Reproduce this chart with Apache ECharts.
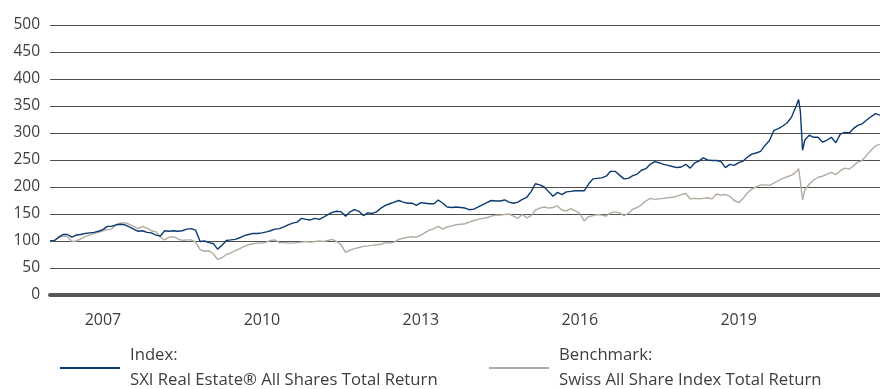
<!DOCTYPE html>
<html>
<head>
<meta charset="utf-8">
<script src="https://cdn.jsdelivr.net/npm/echarts@6/dist/echarts.min.js"></script>
<style>
  html, body { margin: 0; padding: 0; background: #ffffff; }
  #chart { width: 880px; height: 389px; }
</style>
</head>
<body>
<div id="chart"></div>
<script>
// Monthly observations from Jan 2006 to Sep 2021, plus two extra days
// around the February/March 2020 sell-off.
const monthStarts = [];
for (let y = 2006; y <= 2021; y++) {
  for (let m = 1; m <= 12; m++) {
    if (y === 2021 && m > 9) break;
    monthStarts.push(y + '-' + String(m).padStart(2, '0') + '-01');
  }
}
const extraDays = ['2020-02-18', '2020-03-16'];
const dates = monthStarts.concat(extraDays).sort();

const indexName = 'SXI Real Estate® All Shares Total Return';
const benchName = 'Swiss All Share Index Total Return';

// Index, rebased to 100
const indexValues = [
  100, 101, 107, 112, 112, 107, 111, 112, 114, 115, 116, 118,   // 2006
  121, 127, 127, 130, 131, 130, 126, 122, 118, 119, 116, 115,   // 2007
  111, 109, 119, 118, 119, 118, 119, 122, 123, 120, 99, 100,    // 2008
  97, 95, 85, 92, 101, 102, 103, 106, 110, 112, 114, 114,       // 2009
  115, 117, 119, 122, 123, 126, 130, 133, 135, 142, 140, 139,   // 2010
  142, 140, 144, 149, 153, 155, 154, 146, 154, 158, 155, 147,   // 2011
  152, 151, 154, 161, 166, 169, 172, 175, 172, 170, 170, 166,   // 2012
  171, 170, 169, 169, 176, 170, 163, 162, 163, 162, 161, 158,   // 2013
  159, 163, 167, 171, 175, 174, 174, 176, 172, 170, 172, 177,   // 2014
  181, 192, 206, 204, 200, 191, 183, 190, 186, 191, 192, 193,   // 2015
  193, 193, 205, 215, 216, 217, 220, 229, 229, 222, 215, 216,   // 2016
  221, 224, 231, 234, 242, 247, 245, 242, 240, 238, 236, 237,   // 2017
  242, 235, 244, 248, 254, 250, 249, 249, 247, 236, 242, 240,   // 2018
  245, 248, 255, 261, 263, 266, 277, 286, 305, 308, 313, 319,   // 2019
  330, 350, 362, 340, 268, 287, 296, 292, 292, 283, 287, 292, 282, 298, // 2020
  301, 300, 308, 314, 317, 324, 330, 336, 333                   // 2021
];

// Benchmark, rebased to 100
const benchValues = [
  100, 101, 106, 109, 108, 99, 100, 104, 108, 111, 114, 116,    // 2006
  119, 121, 122, 130, 133, 134, 131, 127, 123, 127, 124, 119,   // 2007
  117, 107, 102, 107, 108, 104, 101, 102, 102, 98, 84, 81,      // 2008
  82, 76, 66, 69, 75, 78, 82, 86, 90, 93, 95, 96,               // 2009
  96, 98, 101, 102, 97, 97, 96, 96, 97, 98, 99, 98,             // 2010
  99, 100, 99, 101, 103, 99, 93, 79, 83, 86, 88, 90,            // 2011
  91, 92, 93, 94, 97, 96, 98, 103, 105, 107, 108, 107,          // 2012
  111, 116, 120, 123, 127, 122, 126, 128, 130, 131, 132, 135,   // 2013
  138, 140, 142, 143, 146, 148, 148, 149, 150, 146, 142, 149,   // 2014
  143, 147, 157, 161, 163, 161, 162, 165, 157, 156, 160, 156,   // 2015
  151, 137, 145, 147, 149, 148, 146, 152, 154, 152, 147, 151,   // 2016
  159, 162, 167, 174, 179, 177, 178, 179, 180, 181, 183, 186,   // 2017
  188, 178, 179, 178, 179, 180, 178, 187, 185, 186, 183, 175,   // 2018
  171, 179, 189, 196, 200, 204, 204, 203, 207, 212, 216, 219,   // 2019
  222, 228, 234, 210, 176, 195, 205, 213, 218, 220, 224, 227, 223, 230, // 2020
  235, 233, 239, 246, 249, 259, 268, 276, 279                   // 2021
];

const yearLabels = [2007, 2010, 2013, 2016, 2019];

const legendLabels = {};
legendLabels[indexName] = 'Index:';
legendLabels[benchName] = 'Benchmark:';

const textColor = '#3d3d3d';
const fontFamily = '"Open Sans", "Noto Sans", sans-serif';
const indexColor = '#0b3a72';
const benchColor = '#b3aaa1';

// Dates are placed on a numeric axis as timestamps.
const toTime = (s) => {
  const p = s.split('-').map(Number);
  return new Date(p[0], p[1] - 1, p[2]).getTime();
};
const times = dates.map(toTime);
const toPairs = (vals) => times.map((t, i) => [t, vals[i]]);

const chart = echarts.init(document.getElementById('chart'), null, { renderer: 'canvas' });

const legendCommon = {
  top: 340,
  padding: 0,
  itemWidth: 60,
  itemHeight: 2,
  icon: 'rect',
  selectedMode: false,
  textStyle: {
    fontFamily: fontFamily,
    fontSize: 16.7,
    lineHeight: 25,
    color: textColor,
    padding: [0, 0, 6, 5]
  },
  formatter: (name) => legendLabels[name] + '\n' + name
};

chart.setOption({
  animation: false,
  backgroundColor: '#ffffff',
  grid: { left: 50, right: 0, top: 25, bottom: 94 },
  legend: [
    Object.assign({}, legendCommon, { data: [indexName], left: 60 }),
    Object.assign({}, legendCommon, { data: [benchName], left: 489 })
  ],
  xAxis: {
    type: 'value',
    min: toTime('2006-01-01'),
    max: toTime('2021-09-01'),
    axisLine: { show: true, onZero: false, lineStyle: { color: '#575757', width: 4 } },
    axisTick: { show: false },
    splitLine: { show: false },
    axisLabel: {
      customValues: yearLabels.map((y) => toTime(y + '-01-01')),
      formatter: (v) => String(new Date(v).getFullYear()),
      fontFamily: fontFamily,
      fontSize: 16,
      color: textColor,
      margin: 17
    }
  },
  yAxis: {
    type: 'value',
    min: 0,
    max: 500,
    interval: 50,
    axisLine: { show: false },
    axisTick: { show: false },
    axisLabel: {
      fontFamily: fontFamily,
      fontSize: 15.5,
      color: textColor,
      margin: 10
    },
    splitLine: { lineStyle: { color: '#4f4f4f', width: 1 } }
  },
  series: [
    {
      name: benchName,
      type: 'line',
      data: toPairs(benchValues),
      showSymbol: false,
      lineStyle: { color: benchColor, width: 1.4 },
      itemStyle: { color: benchColor },
      z: 2
    },
    {
      name: indexName,
      type: 'line',
      data: toPairs(indexValues),
      showSymbol: false,
      lineStyle: { color: indexColor, width: 1.4 },
      itemStyle: { color: indexColor },
      z: 3
    }
  ]
});
</script>
</body>
</html>
